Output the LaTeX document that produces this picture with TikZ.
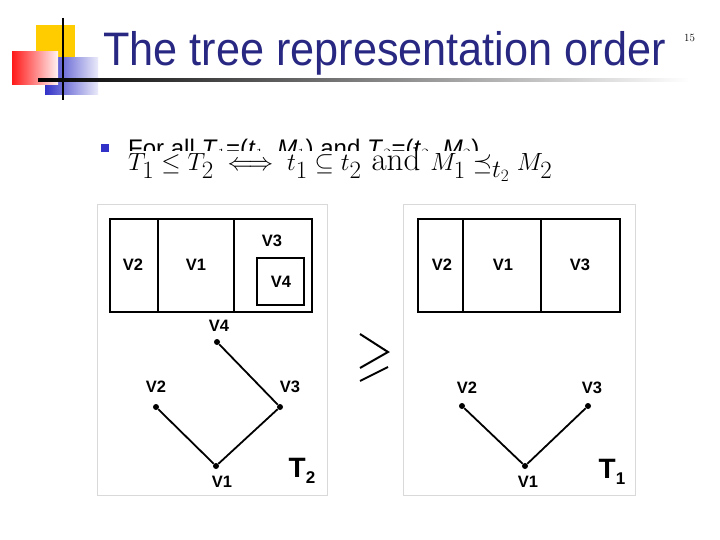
\documentclass[tikz,border=0pt]{standalone}
\usepackage{amsmath,amssymb}
\usepackage{fontspec}
\setsansfont{Liberation Sans}
\usetikzlibrary{fadings}
\definecolor{navy}{RGB}{40,40,130}
\definecolor{bblue}{RGB}{50,50,200}
\definecolor{gold}{RGB}{255,204,0}
\begin{document}
\begin{tikzpicture}[x=1pt,y=-1pt,
  lab/.style={font=\sffamily\bfseries\fontsize{16.5}{16.5}\selectfont,inner sep=0pt},
  dot/.style={circle,fill=black,inner sep=0pt,minimum size=6pt},
  edge/.style={line width=1.8pt},
  cell/.style={draw,line width=1.8pt},
  frame/.style={draw=black!15,line width=0.8pt}]
\useasboundingbox (0,0) rectangle (720,540);
% decoration
\fill[gold] (36,25) rectangle (75,62);
\shade[left color=bblue,right color=bblue!10] (45,58) rectangle (98,95);
\shade[left color=red!90,right color=red!5] (12,52) rectangle (58,85);
\draw[line width=1.5pt] (63,18) -- (63,100);
\shade[left color=black,right color=white] (38,79) rectangle (690,81.5);
\node[font=\sffamily\fontsize{47}{47}\selectfont,text=navy,anchor=base west,inner sep=0pt] (title) at (103,66) {\scalebox{0.92}[1]{The tree representation order}};
\node[font=\fontsize{11}{11}\selectfont,anchor=base west,inner sep=0pt] (pg) at (684,42) {15};
% bullet
\fill[bblue] (101,144) rectangle (109,152);
\begin{scope}
\clip (120,130) rectangle (600,150.5);
\node[font=\sffamily\fontsize{24}{24}\selectfont,anchor=base west,inner sep=0pt] (txt) at (128,157) {For all \textit{T}$_1$=(\textit{t}$_1$, \textit{M}$_1$) and \textit{T}$_2$=(\textit{t}$_2$, \textit{M}$_2$)};
\end{scope}
\node[font=\fontsize{33}{33}\selectfont,anchor=base west,inner sep=0pt] (f) at (128,171) {$T_1\le T_2\iff t_1\subseteq t_2\ \text{and}\ M_1\preceq_{t_2} M_2$};
% frames
\draw[frame] (97,204) rectangle (327,495);
\draw[frame] (403,204) rectangle (635,495);
% left table
\draw[cell] (110,219) rectangle (312,312);
\draw[cell] (158,219) -- (158,312);
\draw[cell] (234,219) -- (234,312);
\draw[cell] (257,258) rectangle (304,305);
\node[lab] (l2) at (133,265) {V2};
\node[lab] (l1) at (196,265) {V1};
\node[lab] (l3) at (272,241) {V3};
\node[lab] (l4) at (281,282) {V4};
% left tree
\node[dot] (a4) at (217,342) {};
\node[dot] (a2) at (156,407) {};
\node[dot] (a3) at (280,407) {};
\node[dot] (a1) at (216,466) {};
\draw[edge] (a4) -- (a3) -- (a1) -- (a2);
\node[lab] at (219,326) {V4};
\node[lab] at (156,387) {V2};
\node[lab] at (290,387) {V3};
\node[lab] at (222,482) {V1};
\node[font=\sffamily\bfseries\fontsize{28}{28}\selectfont,inner sep=0pt] (t2) at (302,471) {T\raisebox{-6pt}{\fontsize{17}{17}\selectfont 2}};
% geq
\draw[line width=2pt] (360,334) -- (388,352) -- (360,368);
\draw[line width=2pt] (360,381) -- (388,367);
% right table
\draw[cell] (418,219) rectangle (620,312);
\draw[cell] (463,219) -- (463,312);
\draw[cell] (541,219) -- (541,312);
\node[lab] at (442,265) {V2};
\node[lab] at (503,265) {V1};
\node[lab] at (580,265) {V3};
\node[dot] (b2) at (462,406) {};
\node[dot] (b3) at (588,406) {};
\node[dot] (b1) at (525,466) {};
\draw[edge] (b2) -- (b1) -- (b3);
\node[lab] at (467,388) {V2};
\node[lab] at (592,388) {V3};
\node[lab] at (528,482) {V1};
\node[font=\sffamily\bfseries\fontsize{28}{28}\selectfont,inner sep=0pt] (t1) at (612,472) {T\raisebox{-6pt}{\fontsize{17}{17}\selectfont 1}};
\end{tikzpicture}
\end{document}
